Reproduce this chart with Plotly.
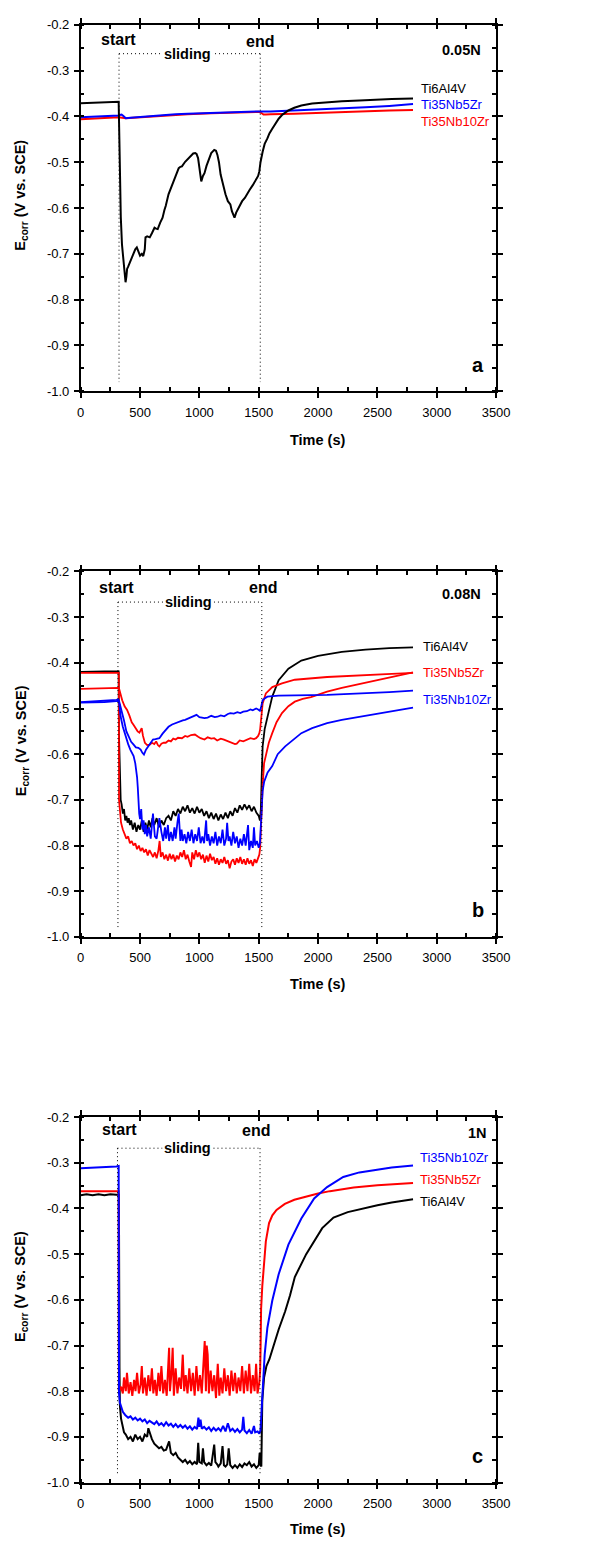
import plotly.graph_objects as go

# ---------------- DATA ----------------
# Panel a (0.05N)
a_ti64_t = [0, 100, 200, 300, 320, 326, 332, 338, 348, 360, 370, 378, 385, 391, 400, 420, 440, 460, 473, 485, 500, 515, 527, 540, 546, 560, 582, 600, 622, 635, 649, 670, 690, 705, 717, 740, 772, 800, 826, 840, 853, 880, 900, 921, 948, 965, 976, 989, 1000, 1010, 1016, 1030, 1043, 1060, 1084, 1100, 1125, 1140, 1152, 1165, 1179, 1200, 1220, 1240, 1261, 1274, 1296, 1310, 1329, 1342, 1360, 1383, 1400, 1424, 1450, 1478, 1495, 1505, 1515, 1533, 1550, 1573, 1590, 1614, 1640, 1668, 1700, 1750, 1800, 1859, 1950, 2076, 2200, 2348, 2500, 2620, 2800]
a_ti64_e = [-0.371, -0.370, -0.369, -0.368, -0.368, -0.45, -0.55, -0.62, -0.68, -0.72, -0.745, -0.762, -0.75, -0.733, -0.728, -0.715, -0.70, -0.69, -0.686, -0.695, -0.704, -0.70, -0.705, -0.69, -0.664, -0.662, -0.664, -0.655, -0.643, -0.645, -0.646, -0.632, -0.621, -0.605, -0.595, -0.57, -0.549, -0.53, -0.513, -0.51, -0.509, -0.499, -0.494, -0.488, -0.481, -0.48, -0.482, -0.491, -0.51, -0.535, -0.542, -0.53, -0.524, -0.508, -0.491, -0.48, -0.473, -0.475, -0.484, -0.50, -0.527, -0.55, -0.570, -0.585, -0.592, -0.607, -0.621, -0.61, -0.599, -0.592, -0.585, -0.578, -0.57, -0.560, -0.55, -0.538, -0.53, -0.52, -0.50, -0.477, -0.46, -0.448, -0.437, -0.427, -0.415, -0.405, -0.396, -0.387, -0.381, -0.376, -0.372, -0.369, -0.367, -0.365, -0.363, -0.362, -0.361]

a_nb5_t = [0, 100, 200, 300, 320, 330, 345, 360, 380, 420, 500, 600, 700, 800, 900, 1000, 1100, 1200, 1300, 1400, 1500, 1600, 1700, 1800, 2000, 2200, 2400, 2600, 2800]
a_nb5_e = [-0.402, -0.401, -0.400, -0.399, -0.398, -0.397, -0.396, -0.399, -0.404, -0.403, -0.401, -0.399, -0.397, -0.395, -0.394, -0.393, -0.392, -0.391, -0.390, -0.390, -0.389, -0.389, -0.388, -0.387, -0.385, -0.383, -0.380, -0.377, -0.373]

a_nb10_t = [0, 100, 200, 300, 320, 380, 500, 700, 900, 1100, 1300, 1450, 1500, 1520, 1540, 1560, 1600, 1800, 2000, 2200, 2400, 2600, 2800]
a_nb10_e = [-0.406, -0.405, -0.404, -0.403, -0.402, -0.404, -0.402, -0.398, -0.395, -0.393, -0.391, -0.390, -0.390, -0.392, -0.396, -0.396, -0.395, -0.394, -0.392, -0.390, -0.389, -0.387, -0.386]

# Panel b (0.08N)
b_ti64_t = [0, 100, 200, 300, 320, 322, 330, 337, 345, 355, 365, 375, 385, 395, 405, 415, 425, 440, 455, 470, 485, 500, 515, 530, 545, 560, 575, 590, 605, 620, 640, 660, 680, 700, 720, 740, 760, 780, 800, 820, 840, 860, 880, 900, 920, 940, 960, 980, 1000, 1020, 1040, 1060, 1080, 1100, 1120, 1140, 1160, 1180, 1200, 1220, 1240, 1260, 1280, 1300, 1320, 1340, 1360, 1380, 1400, 1420, 1440, 1460, 1480, 1500, 1510, 1518, 1525, 1533, 1550, 1573, 1614, 1668, 1750, 1859, 2000, 2200, 2400, 2600, 2800]
b_ti64_e = [-0.420, -0.419, -0.419, -0.419, -0.419, -0.55, -0.66, -0.70, -0.71, -0.73, -0.72, -0.745, -0.735, -0.75, -0.74, -0.755, -0.745, -0.765, -0.75, -0.77, -0.755, -0.765, -0.745, -0.77, -0.75, -0.765, -0.745, -0.76, -0.74, -0.755, -0.74, -0.76, -0.745, -0.755, -0.74, -0.735, -0.745, -0.725, -0.735, -0.72, -0.73, -0.715, -0.725, -0.712, -0.728, -0.718, -0.73, -0.715, -0.728, -0.72, -0.735, -0.725, -0.74, -0.728, -0.742, -0.73, -0.745, -0.732, -0.742, -0.728, -0.74, -0.725, -0.735, -0.718, -0.728, -0.712, -0.722, -0.71, -0.72, -0.712, -0.725, -0.715, -0.728, -0.735, -0.745, -0.72, -0.65, -0.583, -0.545, -0.518, -0.474, -0.438, -0.413, -0.395, -0.385, -0.376, -0.371, -0.368, -0.366]

b_nb5lo_t = [0, 100, 200, 300, 321, 323, 330, 340, 355, 370, 385, 400, 415, 430, 445, 460, 475, 490, 505, 520, 535, 550, 565, 580, 595, 610, 625, 640, 655, 665, 675, 690, 705, 720, 735, 750, 765, 780, 795, 810, 825, 840, 855, 870, 885, 900, 915, 930, 940, 955, 970, 985, 1000, 1015, 1030, 1045, 1060, 1075, 1090, 1105, 1120, 1135, 1150, 1165, 1180, 1195, 1210, 1225, 1240, 1255, 1270, 1285, 1300, 1315, 1330, 1345, 1360, 1375, 1390, 1405, 1420, 1435, 1450, 1465, 1480, 1495, 1505, 1512, 1520, 1533, 1545, 1560, 1585, 1614, 1650, 1696, 1750, 1804, 1870, 1940, 2076, 2200, 2348, 2500, 2620, 2800]
b_nb5lo_e = [-0.422, -0.422, -0.422, -0.422, -0.422, -0.70, -0.73, -0.75, -0.765, -0.775, -0.785, -0.78, -0.795, -0.79, -0.80, -0.795, -0.808, -0.80, -0.812, -0.805, -0.815, -0.808, -0.822, -0.81, -0.818, -0.825, -0.815, -0.828, -0.81, -0.79, -0.825, -0.815, -0.83, -0.82, -0.833, -0.818, -0.83, -0.82, -0.835, -0.822, -0.83, -0.815, -0.825, -0.81, -0.83, -0.82, -0.835, -0.847, -0.815, -0.83, -0.81, -0.825, -0.815, -0.83, -0.82, -0.838, -0.822, -0.835, -0.818, -0.832, -0.825, -0.84, -0.828, -0.842, -0.83, -0.838, -0.825, -0.84, -0.832, -0.85, -0.835, -0.83, -0.842, -0.828, -0.838, -0.825, -0.84, -0.83, -0.842, -0.828, -0.84, -0.832, -0.845, -0.83, -0.838, -0.825, -0.82, -0.805, -0.74, -0.669, -0.62, -0.604, -0.575, -0.554, -0.53, -0.51, -0.495, -0.485, -0.479, -0.475, -0.463, -0.455, -0.447, -0.438, -0.431, -0.421]

b_nb5hi_t = [0, 100, 200, 300, 320, 323, 335, 350, 370, 391, 410, 430, 446, 465, 480, 495, 505, 514, 525, 541, 560, 582, 600, 620, 636, 650, 663, 680, 700, 717, 740, 760, 780, 800, 820, 853, 880, 900, 930, 962, 990, 1010, 1043, 1070, 1100, 1125, 1150, 1180, 1207, 1240, 1270, 1300, 1315, 1340, 1370, 1397, 1430, 1460, 1478, 1495, 1505, 1512, 1519, 1526, 1533, 1560, 1614, 1696, 1804, 2076, 2348, 2620, 2800]
b_nb5hi_e = [-0.457, -0.456, -0.456, -0.455, -0.455, -0.456, -0.47, -0.482, -0.495, -0.503, -0.515, -0.53, -0.536, -0.545, -0.55, -0.553, -0.548, -0.543, -0.56, -0.575, -0.58, -0.579, -0.575, -0.578, -0.572, -0.58, -0.583, -0.577, -0.575, -0.575, -0.57, -0.572, -0.566, -0.568, -0.564, -0.565, -0.56, -0.562, -0.558, -0.557, -0.562, -0.565, -0.568, -0.563, -0.566, -0.565, -0.57, -0.566, -0.568, -0.572, -0.574, -0.578, -0.577, -0.57, -0.572, -0.568, -0.565, -0.567, -0.565, -0.56, -0.554, -0.545, -0.52, -0.50, -0.489, -0.467, -0.453, -0.445, -0.437, -0.431, -0.427, -0.424, -0.422]

b_nb10hi_t = [0, 100, 200, 300, 318, 325, 337, 350, 364, 385, 405, 425, 446, 465, 486, 505, 520, 533, 550, 568, 590, 609, 630, 663, 690, 717, 740, 770, 799, 830, 860, 880, 920, 950, 976, 1000, 1020, 1043, 1070, 1100, 1130, 1152, 1180, 1210, 1240, 1261, 1290, 1320, 1345, 1370, 1400, 1430, 1450, 1478, 1495, 1510, 1519, 1526, 1533, 1550, 1573, 1620, 1668, 2076, 2400, 2600, 2800]
b_nb10hi_e = [-0.486, -0.485, -0.483, -0.481, -0.480, -0.485, -0.496, -0.51, -0.525, -0.55, -0.561, -0.573, -0.579, -0.585, -0.586, -0.59, -0.597, -0.601, -0.59, -0.583, -0.575, -0.568, -0.567, -0.565, -0.555, -0.547, -0.54, -0.535, -0.532, -0.528, -0.526, -0.525, -0.52, -0.518, -0.514, -0.519, -0.52, -0.521, -0.52, -0.516, -0.519, -0.518, -0.515, -0.517, -0.512, -0.51, -0.511, -0.508, -0.51, -0.507, -0.506, -0.502, -0.504, -0.50, -0.502, -0.505, -0.498, -0.488, -0.482, -0.478, -0.474, -0.473, -0.472, -0.47, -0.467, -0.464, -0.461]

b_nb10lo_t = [0, 100, 200, 300, 318, 325, 337, 355, 378, 400, 418, 435, 446, 460, 467, 475, 481, 486, 493, 500, 510, 520, 530, 540, 550, 560, 575, 590, 600, 609, 625, 640, 655, 663, 680, 695, 710, 720, 735, 745, 760, 775, 790, 800, 815, 826, 840, 850, 860, 875, 890, 905, 920, 935, 950, 965, 980, 995, 1010, 1025, 1040, 1057, 1065, 1075, 1090, 1105, 1120, 1135, 1150, 1165, 1180, 1195, 1210, 1225, 1234, 1245, 1255, 1270, 1285, 1300, 1315, 1330, 1345, 1360, 1375, 1390, 1410, 1420, 1435, 1450, 1460, 1470, 1485, 1500, 1510, 1518, 1525, 1533, 1546, 1575, 1614, 1660, 1723, 1800, 1859, 1950, 2076, 2200, 2348, 2500, 2620, 2800]
b_nb10lo_e = [-0.487, -0.487, -0.486, -0.484, -0.483, -0.49, -0.518, -0.54, -0.561, -0.578, -0.59, -0.598, -0.604, -0.62, -0.633, -0.65, -0.672, -0.713, -0.73, -0.742, -0.72, -0.765, -0.745, -0.775, -0.755, -0.78, -0.76, -0.785, -0.755, -0.73, -0.78, -0.785, -0.755, -0.74, -0.77, -0.79, -0.76, -0.785, -0.755, -0.79, -0.77, -0.79, -0.76, -0.785, -0.75, -0.73, -0.79, -0.765, -0.79, -0.775, -0.795, -0.77, -0.79, -0.765, -0.795, -0.775, -0.79, -0.76, -0.795, -0.78, -0.795, -0.745, -0.79, -0.775, -0.80, -0.78, -0.795, -0.77, -0.80, -0.78, -0.795, -0.765, -0.80, -0.785, -0.75, -0.79, -0.78, -0.80, -0.77, -0.795, -0.78, -0.805, -0.785, -0.80, -0.775, -0.80, -0.755, -0.81, -0.79, -0.805, -0.76, -0.80, -0.79, -0.805, -0.795, -0.75, -0.70, -0.68, -0.66, -0.64, -0.626, -0.60, -0.583, -0.566, -0.554, -0.543, -0.532, -0.525, -0.518, -0.511, -0.505, -0.498]

# Panel c (1N)
c_ti64_t = [0, 50, 100, 150, 200, 250, 300, 322, 327, 330, 340, 350, 365, 380, 400, 420, 440, 460, 480, 500, 520, 540, 560, 570, 580, 600, 620, 640, 660, 680, 700, 720, 745, 760, 780, 800, 820, 840, 860, 880, 900, 920, 940, 960, 980, 990, 1000, 1020, 1030, 1040, 1060, 1080, 1100, 1125, 1135, 1150, 1160, 1180, 1195, 1207, 1220, 1235, 1247, 1260, 1280, 1300, 1320, 1340, 1360, 1380, 1400, 1420, 1440, 1460, 1480, 1500, 1508, 1515, 1522, 1530, 1545, 1565, 1590, 1620, 1668, 1723, 1764, 1804, 1900, 2035, 2130, 2250, 2375, 2500, 2620, 2800]
c_ti64_e = [-0.371, -0.369, -0.371, -0.369, -0.371, -0.369, -0.370, -0.370, -0.75, -0.83, -0.86, -0.875, -0.89, -0.895, -0.905, -0.90, -0.91, -0.895, -0.905, -0.90, -0.91, -0.895, -0.90, -0.881, -0.89, -0.905, -0.915, -0.92, -0.925, -0.922, -0.93, -0.928, -0.91, -0.935, -0.94, -0.935, -0.945, -0.95, -0.955, -0.95, -0.958, -0.953, -0.96, -0.955, -0.96, -0.913, -0.955, -0.958, -0.925, -0.955, -0.962, -0.957, -0.963, -0.917, -0.955, -0.96, -0.965, -0.958, -0.92, -0.962, -0.965, -0.96, -0.925, -0.962, -0.968, -0.962, -0.968, -0.96, -0.966, -0.958, -0.962, -0.955, -0.965, -0.96, -0.968, -0.962, -0.935, -0.96, -0.965, -0.82, -0.77, -0.745, -0.73, -0.705, -0.665, -0.625, -0.59, -0.55, -0.50, -0.443, -0.42, -0.408, -0.40, -0.393, -0.387, -0.380]

c_nb5_t = [0, 100, 200, 300, 320, 322, 340, 355, 365, 380, 390, 405, 420, 435, 450, 462, 475, 490, 505, 515, 525, 540, 555, 570, 585, 600, 612, 625, 640, 655, 668, 680, 695, 710, 725, 745, 752, 765, 775, 785, 800, 815, 830, 845, 860, 872, 885, 900, 915, 930, 945, 960, 975, 990, 1005, 1020, 1035, 1045, 1055, 1062, 1070, 1080, 1095, 1110, 1125, 1140, 1155, 1168, 1180, 1195, 1210, 1225, 1240, 1255, 1270, 1285, 1300, 1315, 1330, 1345, 1360, 1375, 1390, 1405, 1420, 1435, 1450, 1465, 1478, 1490, 1505, 1512, 1516, 1520, 1530, 1545, 1560, 1587, 1615, 1650, 1720, 1800, 1900, 2000, 2100, 2300, 2500, 2700, 2800]
c_nb5_e = [-0.362, -0.362, -0.362, -0.362, -0.362, -0.80, -0.79, -0.805, -0.77, -0.80, -0.76, -0.805, -0.78, -0.81, -0.775, -0.80, -0.76, -0.805, -0.785, -0.745, -0.805, -0.77, -0.81, -0.765, -0.80, -0.75, -0.805, -0.775, -0.81, -0.76, -0.80, -0.745, -0.805, -0.775, -0.81, -0.705, -0.80, -0.76, -0.705, -0.81, -0.75, -0.805, -0.77, -0.795, -0.72, -0.80, -0.765, -0.805, -0.75, -0.80, -0.76, -0.81, -0.745, -0.80, -0.765, -0.805, -0.74, -0.69, -0.80, -0.70, -0.72, -0.805, -0.755, -0.80, -0.765, -0.815, -0.74, -0.81, -0.77, -0.805, -0.75, -0.80, -0.765, -0.81, -0.755, -0.80, -0.76, -0.805, -0.77, -0.80, -0.745, -0.805, -0.755, -0.80, -0.74, -0.805, -0.765, -0.80, -0.74, -0.805, -0.78, -0.755, -0.70, -0.62, -0.57, -0.51, -0.472, -0.432, -0.415, -0.403, -0.39, -0.381, -0.374, -0.367, -0.362, -0.354, -0.349, -0.346, -0.344]

c_nb10_t = [0, 100, 200, 300, 320, 323, 330, 340, 355, 375, 400, 420, 440, 460, 480, 500, 520, 540, 560, 580, 600, 620, 640, 660, 680, 700, 720, 740, 760, 780, 800, 820, 840, 860, 880, 900, 920, 940, 960, 980, 992, 1000, 1010, 1020, 1040, 1060, 1080, 1100, 1120, 1140, 1160, 1180, 1200, 1220, 1240, 1260, 1280, 1300, 1320, 1340, 1360, 1370, 1380, 1400, 1420, 1440, 1460, 1470, 1490, 1505, 1515, 1525, 1533, 1550, 1573, 1600, 1614, 1668, 1750, 1859, 1967, 2076, 2212, 2348, 2500, 2620, 2800]
c_nb10_e = [-0.312, -0.311, -0.309, -0.308, -0.307, -0.805, -0.825, -0.835, -0.845, -0.852, -0.858, -0.855, -0.862, -0.858, -0.864, -0.86, -0.866, -0.862, -0.87, -0.865, -0.868, -0.872, -0.866, -0.874, -0.87, -0.876, -0.868, -0.875, -0.871, -0.878, -0.872, -0.879, -0.874, -0.88, -0.875, -0.882, -0.877, -0.884, -0.878, -0.883, -0.858, -0.878, -0.862, -0.882, -0.878, -0.884, -0.879, -0.887, -0.88, -0.886, -0.881, -0.887, -0.876, -0.888, -0.87, -0.887, -0.882, -0.889, -0.883, -0.89, -0.884, -0.856, -0.886, -0.892, -0.885, -0.893, -0.876, -0.89, -0.888, -0.893, -0.885, -0.84, -0.80, -0.72, -0.661, -0.62, -0.602, -0.544, -0.479, -0.422, -0.378, -0.353, -0.331, -0.321, -0.314, -0.310, -0.306]

series_names = ["Ti6Al4V", "Ti35Nb5Zr", "Ti35Nb10Zr"]
panel_loads = ["0.05N", "0.08N", "1N"]
panel_letters = ["a", "b", "c"]
slide_start = [323, 314, 310]
slide_end = [1513, 1526, 1511]
slide_level = [-0.263, -0.267, -0.268]
x_tickvals = [0, 500, 1000, 1500, 2000, 2500, 3000, 3500]
x_ticktext = ["0", "500", "1000", "1500", "2000", "2500", "3000", "3500"]
y_tickvals = [-1.0, -0.9, -0.8, -0.7, -0.6, -0.5, -0.4, -0.3, -0.2]
y_ticktext = ["-1.0", "-0.9", "-0.8", "-0.7", "-0.6", "-0.5", "-0.4", "-0.3", "-0.2"]

# ---------------- LAYOUT ----------------
W, H = 613, 1548
X0, X1 = 79, 507
panel_px = [(18, 388), (570, 939), (1121, 1490)]
BLACK, RED, BLUE = "#000000", "#FF0000", "#0000FF"
FONT = "Liberation Sans, Arial, sans-serif"

fig = go.Figure()

def add(t, e, color, panel, width=2):
    sfx = "" if panel == 0 else str(panel + 1)
    fig.add_trace(go.Scatter(x=t, y=e, mode="lines", line=dict(color=color, width=width),
                             xaxis="x" + sfx, yaxis="y" + sfx, showlegend=False, hoverinfo="skip"))

# panel a
add(a_nb10_t, a_nb10_e, RED, 0)
add(a_nb5_t, a_nb5_e, BLUE, 0)
add(a_ti64_t, a_ti64_e, BLACK, 0)
# panel b
add(b_ti64_t, b_ti64_e, BLACK, 1, 1.8)
add(b_nb5lo_t, b_nb5lo_e, RED, 1, 1.8)
add(b_nb5hi_t, b_nb5hi_e, RED, 1, 1.8)
add(b_nb10hi_t, b_nb10hi_e, BLUE, 1, 1.8)
add(b_nb10lo_t, b_nb10lo_e, BLUE, 1, 1.8)
# panel c
add(c_ti64_t, c_ti64_e, BLACK, 2)
add(c_nb5_t, c_nb5_e, RED, 2)
add(c_nb10_t, c_nb10_e, BLUE, 2)

axis_common = dict(showline=True, linecolor="black", linewidth=1.5, mirror="allticks",
                   ticks="outside", ticklen=5, tickwidth=1.5, tickcolor="black",
                   showgrid=False, zeroline=False,
                   tickfont=dict(family=FONT, size=13, color="black"))

layout = dict(width=W, height=H, margin=dict(l=0, r=0, t=0, b=0),
              plot_bgcolor="white", paper_bgcolor="white", showlegend=False)

annotations = []
shapes = []

label_y = [[-0.338, -0.373, -0.410], [-0.365, -0.421, -0.480], [-0.384, -0.337, -0.289]]
label_colors = [[BLACK, BLUE, RED], [BLACK, RED, BLUE], [BLACK, RED, BLUE]]
label_x = [2854, 2870, 2838]
start_lbl = [(319, -0.232), (303, -0.235), (327, -0.228)]
end_lbl = [(1513, -0.236), (1537, -0.235), (1480, -0.230)]
slide_lbl_x = [900, 908, 900]
load_lbl = [(3386, -0.254), (3386, -0.25), (3442, -0.235)]
ytitle_center = [190, 741, 1292]
xtitle_y = [437, 987, 1537]

for i, (top, bot) in enumerate(panel_px):
    sfx = "" if i == 0 else str(i + 1)
    layout["xaxis" + sfx] = dict(axis_common, domain=[X0 / W, X1 / W], range=[0, 3500],
                                 tickmode="array", tickvals=x_tickvals, ticktext=x_ticktext,
                                 anchor="y" + sfx, ticklabelstandoff=3,
                                 minor=dict(ticks="inside", ticklen=4, dtick=250, tick0=0,
                                            tickwidth=1.5, tickcolor="black"))
    layout["yaxis" + sfx] = dict(axis_common, domain=[1 - bot / H, 1 - top / H], range=[-1.0, -0.2],
                                 tickmode="array", tickvals=y_tickvals, ticktext=y_ticktext,
                                 anchor="x" + sfx, ticklabelstandoff=2,
                                 minor=dict(ticks="inside", ticklen=4, dtick=0.05, tick0=-1.0,
                                            tickwidth=1.5, tickcolor="black"))
    xr, yr = "x" + sfx, "y" + sfx
    # dotted sliding box
    s, e, lv = slide_start[i], slide_end[i], slide_level[i]
    dot = dict(color="black", width=1, dash="1px,3px")
    shapes.append(dict(type="line", xref=xr, yref=yr, x0=s, x1=s, y0=lv, y1=-0.98, line=dot))
    shapes.append(dict(type="line", xref=xr, yref=yr, x0=e, x1=e, y0=lv, y1=-0.98, line=dot))
    shapes.append(dict(type="line", xref=xr, yref=yr, x0=s, x1=e, y0=lv, y1=lv, line=dot))
    bold = dict(family=FONT, color="black", weight="bold")
    annotations.append(dict(xref=xr, yref=yr, x=start_lbl[i][0], y=start_lbl[i][1], text="start",
                            showarrow=False, font=dict(bold, size=16), xanchor="center", yanchor="middle"))
    annotations.append(dict(xref=xr, yref=yr, x=end_lbl[i][0], y=end_lbl[i][1], text="end",
                            showarrow=False, font=dict(bold, size=16), xanchor="center", yanchor="middle"))
    annotations.append(dict(xref=xr, yref=yr, x=slide_lbl_x[i], y=lv, text="sliding", bgcolor="white",
                            borderpad=1, showarrow=False, font=dict(bold, size=14.5),
                            xanchor="center", yanchor="middle"))
    annotations.append(dict(xref=xr, yref=yr, x=load_lbl[i][0], y=load_lbl[i][1], text=panel_loads[i],
                            showarrow=False, font=dict(bold, size=14.5), xanchor="right", yanchor="middle"))
    annotations.append(dict(xref=xr, yref=yr, x=3344, y=-0.942, text=panel_letters[i],
                            showarrow=False, font=dict(bold, size=20), xanchor="center", yanchor="middle"))
    for k in range(3):
        annotations.append(dict(xref=xr, yref=yr, x=label_x[i], y=label_y[i][k], text=series_names[k],
                                showarrow=False, font=dict(family=FONT, size=13, color=label_colors[i][k]),
                                xanchor="left", yanchor="middle"))
    # axis titles
    annotations.append(dict(xref="paper", yref="paper", x=324 / W, y=1 - xtitle_y[i] / H, text="Time (s)",
                            showarrow=False, font=dict(bold, size=14.5), xanchor="center", yanchor="middle"))
    annotations.append(dict(xref="paper", yref="paper", x=18 / W, y=1 - ytitle_center[i] / H,
                            text="E<sub>corr</sub> (V vs. SCE)", textangle=-90,
                            showarrow=False, font=dict(bold, size=14.5), xanchor="center", yanchor="middle"))

layout["annotations"] = annotations
layout["shapes"] = shapes
fig.update_layout(**layout)

fig.write_html("out.html")
